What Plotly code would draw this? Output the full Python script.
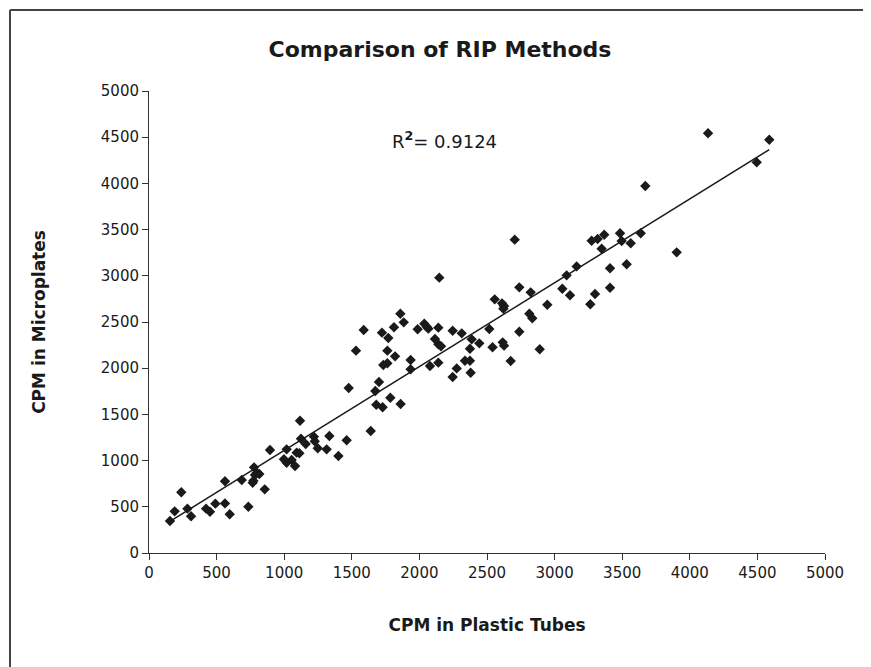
import numpy as np
import plotly.graph_objects as go

# CPM in Plastic Tubes (x) and CPM in Microplates (y)
tubes = [155, 190, 239, 284, 311, 422, 451, 491, 562, 562, 597, 686, 735, 767, 772, 777, 784, 797, 816, 856,
         895, 998, 1018, 1018, 1055, 1080, 1092, 1112, 1117, 1124, 1159, 1220, 1226, 1248, 1314, 1334, 1401, 1462,
         1477, 1531, 1588, 1640, 1674, 1681, 1701, 1723, 1728, 1733, 1763, 1763, 1770, 1785, 1812, 1820, 1859, 1861,
         1884, 1935, 1935, 1987, 2036, 2054, 2066, 2078, 2115, 2140, 2140, 2160, 2140, 2147, 2246, 2246, 2276, 2313,
         2337, 2374, 2374, 2379, 2387, 2443, 2517, 2541, 2557, 2611, 2626, 2621, 2616, 2626, 2675, 2705, 2739, 2739,
         2823, 2813, 2835, 2890, 2946, 3057, 3089, 3114, 3163, 3264, 3299, 3274, 3318, 3367, 3348, 3410, 3410, 3484,
         3496, 3533, 3563, 3637, 3671, 3903, 4135, 4495, 4588]
microplates = [346, 451, 657, 480, 397, 480, 447, 534, 537, 776, 419, 790, 501, 761, 782, 927, 844, 869, 855, 689,
               1115, 1014, 977, 1122, 1006, 941, 1086, 1079, 1432, 1237, 1180, 1259, 1209, 1133, 1122, 1266, 1050, 1220,
               1786, 2190, 2413, 1320, 1753, 1605, 1851, 2385, 1577, 2035, 2053, 2190, 2327, 1681, 2443, 2128, 2590, 1613,
               2496, 2089, 1988, 2421, 2482, 2449, 2428, 2024, 2316, 2439, 2259, 2237, 2060, 2980, 2406, 1905, 1998, 2377,
               2081, 2081, 2211, 1951, 2312, 2269, 2424, 2226, 2745, 2702, 2673, 2644, 2280, 2244, 2078, 3391, 2395, 2875,
               2821, 2590, 2540, 2205, 2687, 2860, 3005, 2789, 3102, 2692, 2803, 3380, 3398, 3445, 3293, 3081, 2871, 3460,
               3377, 3125, 3352, 3460, 3972, 3254, 4542, 4228, 4473]

tick_vals = [0, 500, 1000, 1500, 2000, 2500, 3000, 3500, 4000, 4500, 5000]
r2_label = "R<b><sup>2</sup></b>= 0.9124"

x = np.array(tubes, dtype=float)
y = np.array(microplates, dtype=float)
slope, intercept = np.polyfit(x, y, 1)
xl = np.array([x.min(), x.max()])
yl = slope * xl + intercept

font = "DejaVu Sans, Liberation Sans, Arial, sans-serif"

W, H = 871, 667
OFF = 8  # page body margin offsets the figure in the window

# plot area in window pixels: x 149..825, y 91..553
def px_x(p):
    return (p - 149) / 676

def px_y(p):
    return (553 - p) / 462

fig = go.Figure()
fig.add_trace(go.Scatter(x=tubes, y=microplates, mode="markers",
                         marker=dict(symbol="diamond", size=8, color="#1a1a1a"),
                         showlegend=False, hoverinfo="x+y"))
fig.add_trace(go.Scatter(x=xl, y=yl, mode="lines",
                         line=dict(color="#1a1a1a", width=1.5),
                         showlegend=False, hoverinfo="skip"))

border = dict(color="#444", width=2)
fig.update_layout(
    width=W, height=H,
    margin=dict(l=149 - OFF, r=W - 825 + OFF, t=91 - OFF, b=H - 553 + OFF),
    paper_bgcolor="white", plot_bgcolor="white",
    font=dict(family=font, color="#1a1a1a", size=15),
    title=dict(text="<b>Comparison of RIP Methods</b>", x=(440 - OFF) / W, xref="container",
               y=1 - (49 - OFF) / H, yref="container", yanchor="middle", xanchor="center",
               font=dict(size=22, family=font, color="#1a1a1a")),
    xaxis=dict(range=[0, 5000], tickvals=tick_vals, showgrid=False, zeroline=False,
               showline=True, linecolor="#333", linewidth=1, ticks="outside", ticklen=6,
               tickcolor="#333", tickfont=dict(size=15),
               title=dict(text="<b>CPM in Plastic Tubes</b>", font=dict(size=17), standoff=38)),
    yaxis=dict(range=[0, 5000], tickvals=tick_vals, showgrid=False, zeroline=False,
               showline=True, linecolor="#333", linewidth=1, ticks="outside", ticklen=6,
               tickcolor="#333", tickfont=dict(size=15),
               title=dict(text="<b>CPM in Microplates</b>", font=dict(size=17), standoff=50)),
    annotations=[dict(text=r2_label, x=2182, y=4470, xref="x", yref="y", showarrow=False,
                      font=dict(size=18, family=font, color="#1a1a1a"))],
    shapes=[
        dict(type="line", xref="paper", yref="paper", x0=px_x(10), x1=px_x(866),
             y0=px_y(10), y1=px_y(10), line=border),
        dict(type="line", xref="paper", yref="paper", x0=px_x(10), x1=px_x(10),
             y0=px_y(10), y1=px_y(700), line=border),
        dict(type="line", xref="paper", yref="paper", x0=px_x(866), x1=px_x(866),
             y0=px_y(10), y1=px_y(700), line=border),
    ],
)

fig.write_html("out.html")
